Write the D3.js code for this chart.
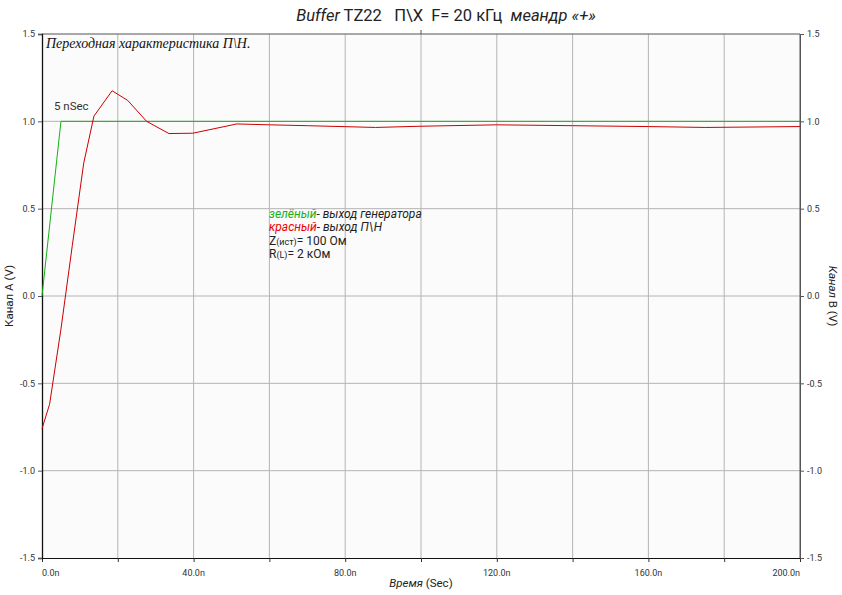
<!DOCTYPE html>
<html><head><meta charset="utf-8">
<script src="https://cdn.jsdelivr.net/npm/d3@7"></script>
<style>body{margin:0;background:#fff}svg{display:block}text{white-space:pre}</style>
</head><body>
<svg id="c" width="842" height="595"></svg>
<script>
const redTime  = [0, 2, 5, 8, 11, 13.7, 18.5, 22.6, 27.6, 33.5, 39.8, 51.4, 60, 70, 88, 100, 120, 140, 160, 175, 200];
const redValue = [-0.76, -0.62, -0.19, 0.29, 0.76, 1.03, 1.175, 1.12, 1.0, 0.93, 0.932, 0.985, 0.98, 0.975, 0.965, 0.972, 0.98, 0.975, 0.97, 0.965, 0.97];
const greenTime  = [0, 5, 200];
const greenValue = [0, 1.0, 1.0];
const xTicks = [0, 40, 80, 120, 160, 200];
const xTickLabels = ["0.0n", "40.0n", "80.0n", "120.0n", "160.0n", "200.0n"];
const yTicks = [1.5, 1.0, 0.5, 0.0, -0.5, -1.0, -1.5];
const yTickLabels = ["1.5", "1.0", "0.5", "0.0", "-0.5", "-1.0", "-1.5"];

const svg = d3.select("#c");
const L = 42, R = 800, T = 34, B = 558;
const x = d3.scaleLinear().domain([0, 200]).range([L, R]);
const y = d3.scaleLinear().domain([-1.5, 1.5]).range([B, T]);
const font = "Roboto, 'Liberation Sans', sans-serif";

svg.append("rect").attr("x", L).attr("y", T).attr("width", R - L).attr("height", B - T).attr("fill", "#fbfbfb");

// grid
const gx = d3.range(20, 200, 20);
svg.append("g").selectAll("line").data(gx).join("line")
  .attr("x1", d => x(d)).attr("x2", d => x(d)).attr("y1", T).attr("y2", B)
  .attr("stroke", "#b4b4b4").attr("stroke-width", 1);
svg.append("g").selectAll("line").data([-1, -0.5, 0, 0.5, 1]).join("line")
  .attr("x1", L).attr("x2", R).attr("y1", d => y(d)).attr("y2", d => y(d))
  .attr("stroke", "#b4b4b4").attr("stroke-width", 1);

// frame
svg.append("line").attr("x1", L).attr("x2", R).attr("y1", T).attr("y2", T).attr("stroke", "#555");
svg.append("line").attr("x1", x(100)).attr("x2", x(100)).attr("y1", T).attr("y2", T - 4).attr("stroke", "#555");
svg.append("line").attr("x1", R).attr("x2", R).attr("y1", T).attr("y2", B).attr("stroke", "#555");

// axes
const bottom = d3.axisBottom(x).tickValues(d3.range(0, 201, 20)).tickSize(4).tickFormat("");
const gb = svg.append("g").attr("transform", `translate(0,${B})`).call(bottom);
gb.select(".domain").attr("stroke", "#111");
gb.selectAll(".tick line").attr("stroke", "#333");
svg.append("g").selectAll("text").data(xTicks).join("text")
  .attr("x", d => x(d)).attr("y", B + 18)
  .attr("text-anchor", (d, i) => i === 0 ? "start" : (i === xTicks.length - 1 ? "end" : "middle"))
  .attr("font-family", font).attr("font-size", 9).attr("fill", "#333")
  .text((d, i) => xTickLabels[i]);

const left = d3.axisLeft(y).tickValues(yTicks).tickSize(4).tickFormat((d, i) => yTickLabels[i]);
const gl = svg.append("g").attr("transform", `translate(${L},0)`).call(left);
gl.select(".domain").attr("stroke", "#111").attr("stroke-width", 1.3);
gl.selectAll(".tick text").attr("font-family", font).attr("font-size", 9).attr("fill", "#333");
gl.selectAll(".tick line").attr("stroke", "#555");

const right = d3.axisRight(y).tickValues(yTicks).tickSize(4).tickFormat((d, i) => yTickLabels[i]);
const gr = svg.append("g").attr("transform", `translate(${R},0)`).call(right);
gr.select(".domain").attr("stroke", "#555");
gr.selectAll(".tick text").attr("font-family", font).attr("font-size", 9).attr("fill", "#333");
gr.selectAll(".tick line").attr("stroke", "#555");

// lines
const line = d3.line().x(d => x(d[0])).y(d => y(d[1]));
svg.append("path").datum(greenTime.map((t, i) => [t, greenValue[i]]))
  .attr("d", line).attr("fill", "none").attr("stroke", "#14b014").attr("stroke-width", 1);
svg.append("path").datum(redTime.map((t, i) => [t, redValue[i]]))
  .attr("d", line).attr("fill", "none").attr("stroke", "#cc0000").attr("stroke-width", 1);

// title
const title = svg.append("text").attr("x", 446).attr("y", 21).attr("text-anchor", "middle")
  .attr("font-family", font).attr("font-size", 16.5).attr("fill", "#222");
title.append("tspan").attr("font-style", "italic").text("Buffer");
title.append("tspan").text(" TZ22   П\\Х  F= 20 кГц  ");
title.append("tspan").attr("font-style", "italic").text("меандр «+»");

// note
svg.append("text").attr("x", 46).attr("y", 48).attr("font-family", "'Liberation Serif', 'DejaVu Serif', serif")
  .attr("font-style", "italic").attr("font-size", 14).attr("fill", "#111").text("Переходная характеристика П\\Н.");

svg.append("text").attr("x", 54).attr("y", 110).attr("font-family", font).attr("font-size", 11.5).attr("fill", "#333").text("5 nSec");

// legend
const lg = svg.append("g").attr("font-family", font).attr("font-size", 12);
const t1 = lg.append("text").attr("x", 269).attr("y", 218).attr("font-style", "italic");
t1.append("tspan").attr("fill", "#14b014").text("зелёный");
t1.append("tspan").attr("fill", "#222").text("- выход генератора");
const t2 = lg.append("text").attr("x", 269).attr("y", 231).attr("font-style", "italic");
t2.append("tspan").attr("fill", "#ee0000").text("красный");
t2.append("tspan").attr("fill", "#222").text("- выход П\\Н");
const t3 = lg.append("text").attr("x", 269).attr("y", 245).attr("fill", "#222");
t3.append("tspan").text("Z");
t3.append("tspan").attr("font-size", 9).text("(ист)");
t3.append("tspan").text("= 100 Ом");
const t4 = lg.append("text").attr("x", 269).attr("y", 258).attr("fill", "#222");
t4.append("tspan").text("R");
t4.append("tspan").attr("font-size", 9).text("(L)");
t4.append("tspan").text("= 2 кОм");

// axis titles
const xl = svg.append("text").attr("x", 421).attr("y", 587).attr("text-anchor", "middle")
  .attr("font-family", font).attr("font-size", 11.5).attr("fill", "#222");
xl.append("tspan").attr("font-style", "italic").text("Время");
xl.append("tspan").text(" (Sec)");

const yl = svg.append("text").attr("transform", "translate(13,296) rotate(-90)").attr("text-anchor", "middle")
  .attr("font-family", font).attr("font-size", 11.5).attr("fill", "#222");
yl.append("tspan").text("Канал A (V)");

const yr = svg.append("text").attr("transform", "translate(829,296) rotate(90)").attr("text-anchor", "middle")
  .attr("font-family", font).attr("font-size", 11.5).attr("fill", "#222");
yr.append("tspan").attr("font-style", "italic").text("Канал");
yr.append("tspan").text(" B (V)");
</script>
</body></html>
